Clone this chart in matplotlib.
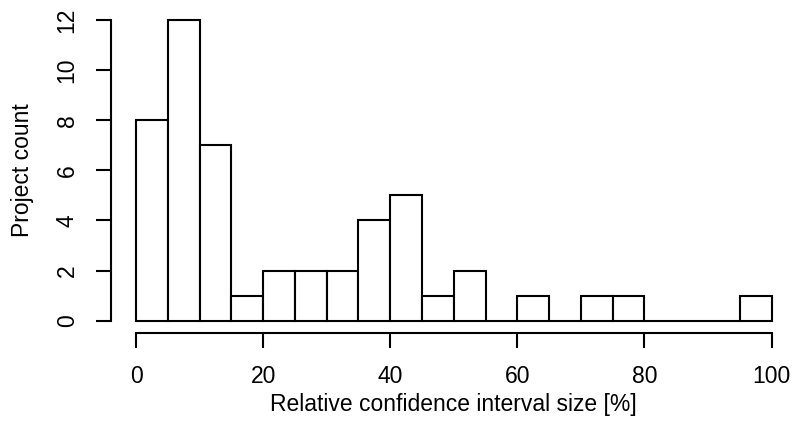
import matplotlib
matplotlib.use("Agg")
import matplotlib.pyplot as plt
import numpy as np

# histogram of relative CI sizes, 5% bins
bin_edges = np.arange(0, 105, 5)
counts = [8, 12, 7, 1, 2, 2, 2, 4, 5, 1, 2, 0, 1, 0, 1, 1, 0, 0, 0, 1]
x_ticks = [0, 20, 40, 60, 80, 100]
y_ticks = [0, 2, 4, 6, 8, 10, 12]

plt.rcParams['font.family'] = ['Liberation Sans', 'DejaVu Sans']
fs = 16.5

fig = plt.figure(figsize=(7.94, 4.23), dpi=100)
ax = fig.add_axes([110.6 / 794, 90.3 / 423, 686.4 / 794, 324.7 / 423])

ax.hist(bin_edges[:-1], bins=bin_edges, weights=counts,
        facecolor='white', edgecolor='black', linewidth=1.5)

ax.set_xlim(-4, 104)
ax.set_ylim(-0.48, 12.48)

for s in ['top', 'right']:
    ax.spines[s].set_visible(False)
ax.spines['left'].set_bounds(0, 12)
ax.spines['bottom'].set_bounds(0, 100)
ax.spines['left'].set_linewidth(1.5)
ax.spines['bottom'].set_linewidth(1.5)

ax.set_xticks(x_ticks)
ax.set_yticks(y_ticks)
ax.tick_params(axis='both', length=11, width=1.5, labelsize=fs, pad=12)
for lab in ax.get_yticklabels():
    lab.set_rotation(90)
    lab.set_va('center')

ax.set_xlabel("Relative confidence interval size [%]", fontsize=fs, labelpad=3.5)
ax.set_ylabel("Project count", fontsize=fs, labelpad=15.8)

fig.savefig("out.png", dpi=100)
